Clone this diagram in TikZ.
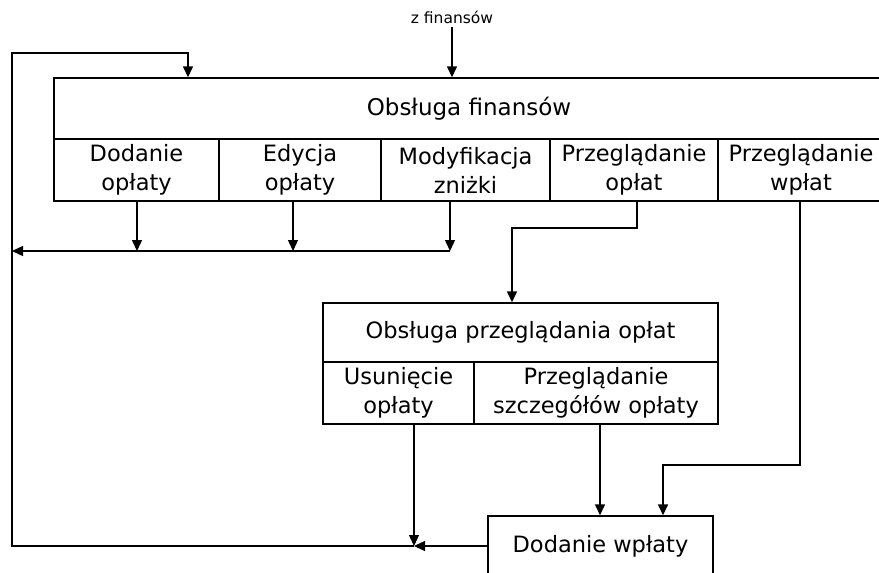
\documentclass[tikz,border=0pt]{standalone}
\usepackage{fontspec}
\setmainfont{DejaVu Sans}
\usetikzlibrary{arrows.meta}
\begin{document}
\begin{tikzpicture}[x=1pt,y=-1pt,
  box/.style={draw, line width=1.4pt, inner sep=0pt, align=center, font=\fontsize{22.5}{29}\selectfont},
  conn/.style={draw, line width=1.4pt, -{Triangle[length=11pt,width=10pt]}},
  plain/.style={draw, line width=1.4pt}]
\useasboundingbox (0,0) rectangle (879,573);
\clip (0,0) rectangle (879,573);
% top block
\node[box, minimum width=830pt, minimum height=61pt, font=\fontsize{23}{29}\selectfont] (fin) at (469,108.5) {Obsługa finansów};
\node[box, minimum width=165pt, minimum height=62pt] (c1) at (136.5,170) {Dodanie\\opłaty};
\node[box, minimum width=162pt, minimum height=62pt] (c2) at (300,170) {Edycja\\opłaty};
\node[box, minimum width=169pt, minimum height=62pt] (c3) at (465.5,170) {Modyfikacja\\zniżki};
\node[box, minimum width=168pt, minimum height=62pt] (c4) at (634,170) {Przeglądanie\\opłat};
\node[box, minimum width=166pt, minimum height=62pt] (c5) at (801,170) {Przeglądanie\\wpłat};
% middle block
\node[box, minimum width=395pt, minimum height=59pt] (mp) at (520.5,332.5) {Obsługa przeglądania opłat};
\node[box, minimum width=151pt, minimum height=62pt] (us) at (398.5,393) {Usunięcie\\opłaty};
\node[box, minimum width=244pt, minimum height=62pt] (sz) at (596,393) {Przeglądanie\\szczegółów opłaty};
% bottom block
\node[box, minimum width=225pt, minimum height=60pt] (dw) at (600.5,546) {Dodanie wpłaty};
% input label
\node[font=\fontsize{15.5}{18}\selectfont, inner sep=3pt] (zf) at (452,17) {z finansów};
\draw[conn] (zf.south) -- (zf.south |- fin.north);
% bus from first three cells
\coordinate (j1) at (137,251);
\coordinate (j2) at (293,251);
\coordinate (j3) at (450,251);
\coordinate (busL) at (12,251);
\draw[conn] (c1.south -| j1) -- (j1);
\draw[conn] (c2.south -| j2) -- (j2);
\draw[conn] (c3.south -| j3) -- (j3);
\draw[conn] (j3) -- (busL);
% to middle block
\coordinate (k1) at (637,228);
\coordinate (k2) at (512,228);
\draw[conn] (c4.south -| k1) -- (k1) -- (k2) -- (k2 |- mp.north);
% from Przegladanie wplat
\coordinate (w1) at (800,465);
\coordinate (w2) at (663,465);
\draw[conn] (c5.south -| w1) -- (w1) -- (w2) -- (w2 |- dw.north);
% from szczegolow
\coordinate (s1) at (600,0);
\draw[conn] (sz.south -| s1) -- (dw.north -| s1);
% feedback loop
\coordinate (jm) at (414,546);
\coordinate (lb) at (12,546);
\coordinate (lt) at (12,53);
\coordinate (ft) at (188,53);
\draw[conn] (us.south -| jm) -- (jm);
\draw[conn] (dw.west) -- (jm);
\draw[conn] (jm) -- (lb) -- (lt) -- (ft) -- (ft |- fin.north);
\end{tikzpicture}
\end{document}
